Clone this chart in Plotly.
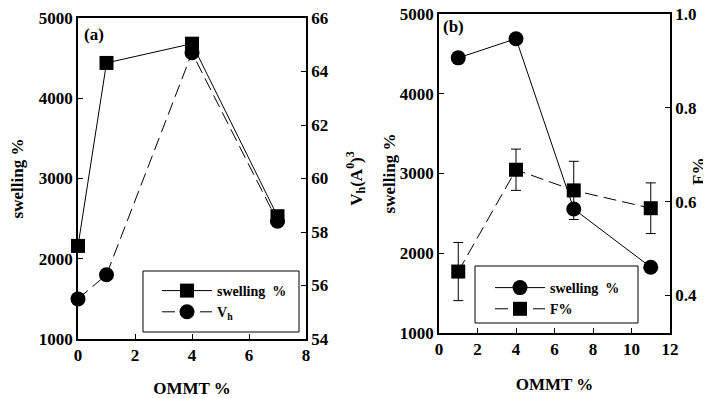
import plotly.graph_objects as go

# panel (a)
ommt_a = [0, 1, 4, 7]
swelling_a = [2160, 4440, 4680, 2530]
vh_a = [55.5, 56.4, 64.7, 58.4]

# panel (b)
ommt_b = [1, 4, 7, 11]
swelling_b = [4450, 4690, 2555, 1825]
f_b = [0.451, 0.668, 0.624, 0.586]
f_err = [0.062, 0.044, 0.062, 0.054]

# page has an 8px body margin, so the figure is sized to fit inside the window
OFF = 8
W, H = 711 - OFF, 398 - OFF
FONT = "Liberation Serif"


def px(x):
    # window pixel -> paper fraction
    return (x - OFF) / W


def py(y):
    return 1 - (y - OFF) / H


fig = go.Figure()

# (a) swelling - solid squares
fig.add_trace(go.Scatter(
    x=ommt_a, y=swelling_a, mode="lines+markers", name="swelling  %",
    line=dict(color="black", width=1),
    marker=dict(symbol="square", size=14, color="black"),
    xaxis="x", yaxis="y", legend="legend", cliponaxis=False))
# (a) Vh - dashed circles
fig.add_trace(go.Scatter(
    x=ommt_a, y=vh_a, mode="lines+markers", name="V<sub>h</sub>",
    line=dict(color="black", width=1, dash="13px,6px"),
    marker=dict(symbol="circle", size=15, color="black"),
    xaxis="x", yaxis="y2", legend="legend", cliponaxis=False))

# (b) swelling - solid circles
fig.add_trace(go.Scatter(
    x=ommt_b, y=swelling_b, mode="lines+markers", name="swelling  %",
    line=dict(color="black", width=1),
    marker=dict(symbol="circle", size=15, color="black"),
    xaxis="x2", yaxis="y3", legend="legend2", cliponaxis=False))
# (b) F% - dashed squares with error bars
fig.add_trace(go.Scatter(
    x=ommt_b, y=f_b, mode="lines+markers", name="F%",
    line=dict(color="black", width=1, dash="13px,6px"),
    marker=dict(symbol="square", size=14, color="black"),
    error_y=dict(type="data", array=f_err, color="black", thickness=1, width=5),
    xaxis="x2", yaxis="y4", legend="legend2", cliponaxis=False))

tickfont = dict(family=FONT, size=17, color="black", weight="bold")
titlefont = dict(family=FONT, size=17, color="black", weight="bold")
ax_common = dict(showgrid=False, zeroline=False, showline=True, linecolor="black",
                 linewidth=1.5, ticks="inside", ticklen=5, tickcolor="black",
                 tickfont=tickfont, automargin=False, ticklabeloverflow="allow")
legfont = dict(family=FONT, size=14, color="black", weight="bold")

dom_xa = [px(78), px(306)]
dom_ya = [py(339), py(18)]
dom_xb = [px(439), px(670)]
dom_yb = [py(333), py(14)]

fig.update_layout(
    width=W, height=H, margin=dict(l=0, r=0, t=0, b=0),
    paper_bgcolor="white", plot_bgcolor="white",
    font=dict(family=FONT, color="black", weight="bold"),
    xaxis=dict(ax_common, domain=dom_xa, range=[0, 8], dtick=2, anchor="y",
               mirror=True, title=dict(text="OMMT %", font=titlefont, standoff=18)),
    yaxis=dict(ax_common, domain=dom_ya, range=[1000, 5000], dtick=1000, anchor="x",
               title=dict(text="swelling %", font=titlefont, standoff=12)),
    yaxis2=dict(ax_common, range=[54, 66], dtick=2, overlaying="y", side="right",
                anchor="x",
                title=dict(text="V<sub>h</sub>(A<sup>0</sup>)<sup>3</sup>",
                           font=titlefont, standoff=22)),
    xaxis2=dict(ax_common, domain=dom_xb, range=[0, 12], dtick=2, anchor="y3",
                mirror=True, title=dict(text="OMMT %", font=titlefont, standoff=20)),
    yaxis3=dict(ax_common, domain=dom_yb, range=[1000, 5000], dtick=1000, anchor="x2",
                title=dict(text="swelling %", font=titlefont, standoff=0)),
    yaxis4=dict(ax_common, range=[0.32, 1.0], tick0=0.4, dtick=0.2, tickformat=".1f",
                overlaying="y3", side="right", anchor="x2"),
    legend=dict(x=px(157), y=py(275), xanchor="left", yanchor="top",
                bgcolor="rgba(0,0,0,0)", borderwidth=0, itemwidth=50, font=legfont),
    legend2=dict(x=px(490), y=py(272), xanchor="left", yanchor="top",
                 bgcolor="rgba(0,0,0,0)", borderwidth=0, itemwidth=50, font=legfont),
    shapes=[
        dict(type="rect", xref="paper", yref="paper", x0=px(143), x1=px(299),
             y0=py(332), y1=py(271), line=dict(color="black", width=1)),
        dict(type="rect", xref="paper", yref="paper", x0=px(475), x1=px(638),
             y0=py(323), y1=py(266), line=dict(color="black", width=1)),
    ],
    annotations=[
        dict(text="(a)", xref="paper", yref="paper", x=px(82), y=py(35),
             xanchor="left", yanchor="middle", showarrow=False,
             font=dict(family=FONT, size=17, color="black", weight="bold")),
        dict(text="(b)", xref="paper", yref="paper", x=px(441), y=py(26),
             xanchor="left", yanchor="middle", showarrow=False,
             font=dict(family=FONT, size=17, color="black", weight="bold")),
        # right-hand title of panel (b); sits right at the page edge
        dict(text="F%", xref="paper", yref="paper", x=px(698), y=py(172),
             xanchor="center", yanchor="middle", textangle=-90, showarrow=False,
             font=titlefont),
    ],
)

fig.write_html("out.html")
